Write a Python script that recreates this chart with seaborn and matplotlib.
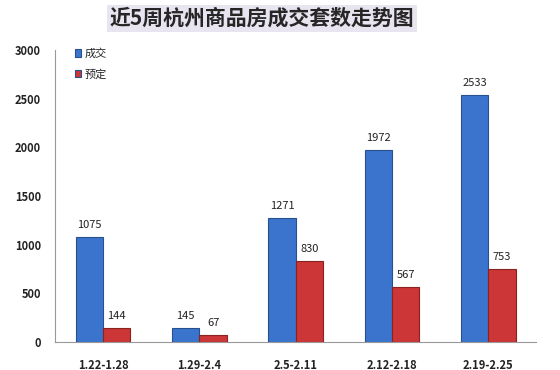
import pandas as pd
import matplotlib
matplotlib.use('Agg')
import matplotlib.pyplot as plt
import seaborn as sns

weeks = ['1.22-1.28', '1.29-2.4', '2.5-2.11', '2.12-2.18', '2.19-2.25']
deals = [1075, 145, 1271, 1972, 2533]      # 成交
reserved = [144, 67, 830, 567, 753]        # 预定

df = pd.DataFrame({
    'week': weeks * 2,
    'count': deals + reserved,
    'kind': ['成交'] * len(weeks) + ['预定'] * len(weeks),
})

sns.set_style('white')
plt.rcParams['font.family'] = ['Noto Sans CJK SC', 'DejaVu Sans']

fig = plt.figure(figsize=(5.6, 3.7), dpi=100)
ax = fig.add_axes([0.098, 0.076, 0.86, 0.789])

sns.barplot(data=df, x='week', y='count', hue='kind',
            palette=['#3b74cc', '#cc3636'], saturation=1, width=0.57,
            edgecolor='#27508e', linewidth=0.8, ax=ax)
# darker edges for the red bars
for bar in ax.containers[1]:
    bar.set_edgecolor('#8a2222')

for cont in ax.containers:
    ax.bar_label(cont, padding=5, fontsize=8, color='#222222')

ax.set_ylim(0, 3000)
ax.set_yticks(range(0, 3001, 500))
ax.set_xlabel('')
ax.set_ylabel('')
ax.tick_params(axis='both', labelsize=8, length=0)
ax.tick_params(axis='x', pad=12)
ax.tick_params(axis='y', pad=10)
for lab in ax.get_xticklabels() + ax.get_yticklabels():
    lab.set_fontweight('semibold')
    lab.set_color('#222222')

for s in ['top', 'right']:
    ax.spines[s].set_visible(False)
ax.spines['left'].set_color('#999999')
ax.spines['bottom'].set_color('#999999')

ax.legend(loc='upper left', bbox_to_anchor=(0.02, 1.04), frameon=False,
          fontsize=8, handlelength=0.6, handleheight=0.6, labelspacing=0.9,
          handletextpad=0.3)

fig.text(0.468, 0.95, '近5周杭州商品房成交套数走势图', ha='center', va='center',
         fontsize=15, fontweight='bold',
         bbox=dict(facecolor='#e8e4f0', edgecolor='none', pad=2))

fig.savefig('out.png', dpi=100)
